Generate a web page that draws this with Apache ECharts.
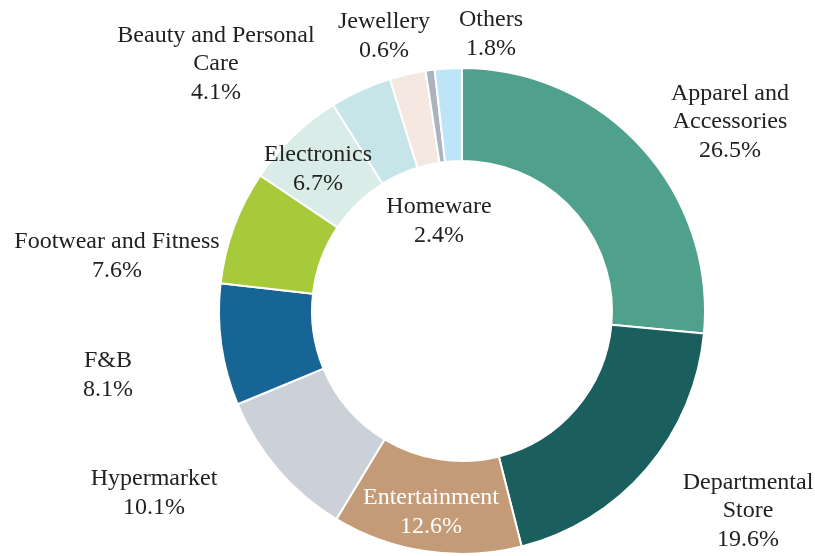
<!DOCTYPE html>
<html>
<head>
<meta charset="utf-8">
<script src="https://cdn.jsdelivr.net/npm/echarts@6/dist/echarts.min.js"></script>
<style>
  html, body { margin: 0; padding: 0; background: #ffffff; }
  #chart { width: 815px; height: 556px; }
</style>
</head>
<body>
<div id="chart"></div>
<script>
// Share of retail space by category (%), clockwise from the top
const categories = [
  'Apparel and\nAccessories',
  'Departmental\nStore',
  'Entertainment',
  'Hypermarket',
  'F&B',
  'Footwear and Fitness',
  'Electronics',
  'Beauty and Personal\nCare',
  'Homeware',
  'Jewellery',
  'Others'
];
const shares = [26.5, 19.6, 12.6, 10.1, 8.1, 7.6, 6.7, 4.1, 2.4, 0.6, 1.8];
const sliceColors = [
  '#4fa18b', '#1a5e5d', '#c49b77', '#cbd0d9', '#166595', '#a6ca3a',
  '#d9ece7', '#c6e5e8', '#f4e8e1', '#aab3c0', '#bde5f7'
];

// Where each label is centred on the canvas
const labelAnchors = [
  [730, 122], [748, 511], [431, 512], [154, 493], [108, 375], [117, 256],
  [318, 169], [216, 64], [439, 221], [384, 36], [491, 34]
];
const labelColors = [
  '#222', '#222', '#ffffff', '#222', '#222', '#222',
  '#222', '#222', '#222', '#222', '#222'
];

const chart = echarts.init(document.getElementById('chart'), null, { renderer: 'canvas' });

chart.setOption({
  animation: false,
  series: [{
    type: 'pie',
    center: [462, 311],
    radius: [150, 243],
    startAngle: 90,
    clockwise: true,
    avoidLabelOverlap: false,
    itemStyle: { borderColor: '#ffffff', borderWidth: 2 },
    labelLine: { show: false },
    label: {
      show: true,
      position: 'outside',
      fontFamily: 'Liberation Serif',
      fontSize: 24,
      lineHeight: 28.5,
      align: 'center',
      formatter: p => p.name + '\n' + p.value.toFixed(1) + '%'
    },
    labelLayout: params => ({
      x: labelAnchors[params.dataIndex][0],
      y: labelAnchors[params.dataIndex][1],
      align: 'center',
      verticalAlign: 'middle'
    }),
    emphasis: { disabled: true },
    data: categories.map((name, i) => ({
      name: name,
      value: shares[i],
      itemStyle: { color: sliceColors[i] },
      label: { color: labelColors[i] }
    }))
  }]
});
</script>
</body>
</html>
